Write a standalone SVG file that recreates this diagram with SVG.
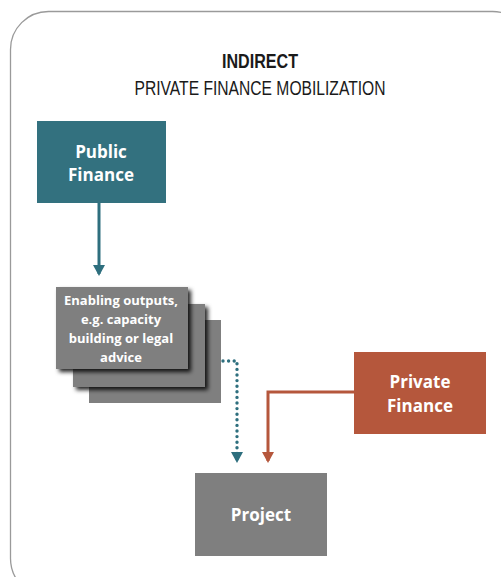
<svg xmlns="http://www.w3.org/2000/svg" width="501" height="577" viewBox="0 0 501 577">
<defs>
<style>
.frame{fill:#fff;stroke:#9a9a9a;stroke-width:1.3}
.lbl{font-family:"Open Sans","Liberation Sans",sans-serif;font-weight:bold;fill:#fff;text-anchor:middle}
.gray{fill:#7f7f7f}
.title{font-family:"Liberation Sans",sans-serif;fill:#1a1a1a;text-anchor:middle}
</style>
<filter id="sh" x="-10%" y="-10%" width="130%" height="130%">
<feDropShadow dx="3" dy="3" stdDeviation="2" flood-color="#000" flood-opacity="0.85"/>
</filter>
<marker id="ahT" markerWidth="12" markerHeight="11" refX="6" refY="9" orient="0" markerUnits="userSpaceOnUse" viewBox="0 0 12 11">
<path d="M0,0 L12,0 L6,11 Z" fill="#2e6f7e"/>
</marker>
<marker id="ahR" markerWidth="12" markerHeight="11" refX="6" refY="9" orient="0" markerUnits="userSpaceOnUse" viewBox="0 0 12 11">
<path d="M0,0 L12,0 L6,11 Z" fill="#b5573c"/>
</marker>
</defs>
<rect width="501" height="577" fill="#fff"/>
<rect class="frame" x="10.5" y="11.5" width="520" height="585" rx="38" ry="38"/>
<g id="title">
<text class="title" x="260" y="68" font-size="21" font-weight="bold" textLength="76" lengthAdjust="spacingAndGlyphs">INDIRECT</text>
<text class="title" x="260" y="95" font-size="20" textLength="251" lengthAdjust="spacingAndGlyphs">PRIVATE FINANCE MOBILIZATION</text>
</g>
<g id="public-finance">
<rect x="37" y="121" width="129" height="82" fill="#33717f"/>
<text class="lbl" x="101" y="158" font-size="17">Public</text>
<text class="lbl" x="101" y="181" font-size="17">Finance</text>
</g>
<g id="enabling-outputs">
<rect class="gray" x="89" y="320" width="132" height="83"/>
<rect class="gray" x="73" y="304" width="132" height="83" filter="url(#sh)"/>
<rect class="gray" x="56" y="287" width="132" height="82" filter="url(#sh)"/>
<text class="lbl" x="121" y="305" font-size="13">Enabling outputs,</text>
<text class="lbl" x="121" y="324" font-size="13">e.g. capacity</text>
<text class="lbl" x="121" y="343" font-size="13">building or legal</text>
<text class="lbl" x="121" y="362" font-size="13">advice</text>
</g>
<g id="private-finance">
<rect x="354" y="352" width="132" height="82" fill="#b5573c"/>
<text class="lbl" x="420" y="388" font-size="17">Private</text>
<text class="lbl" x="420" y="412" font-size="17">Finance</text>
</g>
<g id="project">
<rect class="gray" x="195" y="473" width="132" height="83"/>
<text class="lbl" x="261" y="521" font-size="17">Project</text>
</g>
<g id="connectors" fill="none">
<path d="M99,203 V274" stroke="#2e6f7e" stroke-width="3" marker-end="url(#ahT)"/>
<path d="M223,361 H237 V461" stroke="#2e6f7e" stroke-width="3.4" stroke-linecap="round" stroke-dasharray="0 5.6" marker-end="url(#ahT)"/>
<path d="M354,392 H268 V461" stroke="#b5573c" stroke-width="3" marker-end="url(#ahR)"/>
</g>
</svg>
